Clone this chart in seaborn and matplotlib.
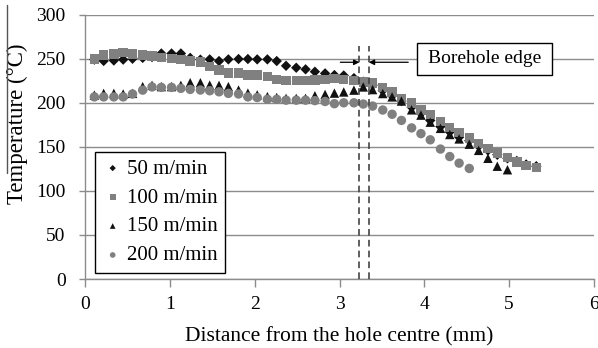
import numpy as np
import pandas as pd
import matplotlib
matplotlib.use("Agg")
import matplotlib.pyplot as plt
import seaborn as sns
from matplotlib.patches import Rectangle
from matplotlib.lines import Line2D

# ---- data ----
distance = [0.11, 0.22, 0.34, 0.45, 0.56, 0.68, 0.79, 0.90, 1.02, 1.13,
            1.24, 1.36, 1.47, 1.58, 1.69, 1.81, 1.92, 2.03, 2.15, 2.26,
            2.37, 2.49, 2.60, 2.71, 2.83, 2.94, 3.05, 3.17, 3.28, 3.39,
            3.51, 3.62, 3.73, 3.85, 3.96, 4.07, 4.19, 4.30, 4.41, 4.53,
            4.64, 4.75, 4.86, 4.98, 5.09, 5.20, 5.32]

temp_50 = [249, 247.5, 248, 249, 250, 251, 252, 256, 256, 256,
           251, 249, 249.3, 247.4, 249.3, 249.7, 249.7, 249.3, 249.3, 247.4,
           242, 239.8, 238, 235.3, 233.4, 231.5, 231, 228, 224, 220,
           214, 208, 202, 195, 188, 180, 173, 167, 161, 157,
           151, 146, 141, 137, 134, 130, 128]

temp_100 = [249.7, 254.2, 255.4, 256.9, 255.4, 254.2, 253, 251.6, 250.4, 249.3,
            247.4, 246.3, 241, 237.2, 234, 234, 231.5, 231.5, 229.6, 226.6,
            225, 225, 225, 225.8, 226.6, 227.7, 226.6, 225, 223.8, 222.6,
            217.3, 212.4, 204.8, 199.9, 191.6, 187, 179, 172, 166, 160,
            154, 148, 143, 138, 133, 129, 126.5]

temp_150 = [208.7, 210.7, 210.7, 210, 210.7, 218.4, 219.8, 218.4, 218.4, 219.8,
            222.8, 222.8, 220.1, 219.8, 218.4, 214.5, 211, 209, 207, 206,
            205, 205, 205, 208, 209.5, 211, 212.3, 214.4, 218, 215,
            210.5, 206.7, 202, 192, 186, 178, 171, 164, 159, 153,
            146, 137, 128, 124]

temp_200 = [206.7, 206.7, 206.7, 206.7, 210, 214.4, 218, 217.5, 217.5, 216.4,
            215.2, 214.5, 213.7, 212.5, 210.7, 210, 206.7, 206, 204, 204,
            203, 203, 203, 202.5, 201.5, 199, 200, 200, 198.6, 196.3,
            191.8, 187, 180, 171.5, 165, 158, 147.5, 139, 131.5, 125.5]

series_labels = ["50 m/min", "100 m/min", "150 m/min", "200 m/min"]
series_values = [temp_50, temp_100, temp_150, temp_200]

x_ticks = [0, 1, 2, 3, 4, 5, 6]
y_ticks = [0, 50, 100, 150, 200, 250, 300]

# ---- build long-form table ----
frames = []
for lab, vals in zip(series_labels, series_values):
    frames.append(pd.DataFrame({"Distance": distance[:len(vals)],
                                "Temperature": vals,
                                "Speed": lab}))
df = pd.concat(frames, ignore_index=True)

# ---- style ----
sns.set_theme(style="white")
plt.rcParams['font.family'] = ['Liberation Serif', 'DejaVu Serif']

fig = plt.figure(figsize=(5.98, 3.48), dpi=100)
ax = fig.add_axes([85 / 598, 1 - 279 / 348, 509 / 598, 264.3 / 348])

marker_styles = {
    "50 m/min": dict(marker="D", color="#111111", s=28),
    "100 m/min": dict(marker="s", color="#808080", s=46),
    "150 m/min": dict(marker="^", color="#111111", s=46),
    "200 m/min": dict(marker="o", color="#808080", s=46),
}

for i, lab in enumerate(series_labels):
    sub = df[df["Speed"] == lab]
    st = marker_styles[lab]
    sns.scatterplot(data=sub, x="Distance", y="Temperature", ax=ax,
                    marker=st["marker"], color=st["color"], s=st["s"],
                    edgecolor="none", linewidth=0, label=lab, zorder=3 + i)

ax.set_xlim(0, 6)
ax.set_ylim(0, 300)
ax.set_xticks(x_ticks)
ax.set_yticks(y_ticks)

grid_col = "#8c8c8c"
ax.yaxis.grid(True, color=grid_col, lw=1)
ax.xaxis.grid(False)
for side in ["top", "right"]:
    ax.spines[side].set_visible(False)
for side in ["left", "bottom"]:
    ax.spines[side].set_color(grid_col)
    ax.spines[side].set_linewidth(1)

ax.tick_params(axis="x", bottom=True, direction="out", length=6, width=1,
               color=grid_col, pad=6.5, labelsize=14, labelcolor="black")
ax.tick_params(axis="y", left=True, direction="out", length=4, width=1,
               color=grid_col, pad=10, labelsize=14, labelcolor="black")

ax.set_xlabel("Distance from the hole centre (mm)", fontsize=15.5, color="black")
ax.set_ylabel("Temperature (°C)", fontsize=16.5, color="black")
ax.xaxis.set_label_coords(0.5, -0.18)
ax.yaxis.set_label_coords(-0.112, 0.588)

# borehole edge annotation
edge_lo, edge_hi = 3.235, 3.345
for xe in (edge_lo, edge_hi):
    ax.plot([xe, xe], [0, 264], ls=(0, (4, 2.5)), color="#444444", lw=1.2, zorder=8)
ax.annotate("", xy=(edge_lo, 246), xytext=(3.01, 246),
            arrowprops=dict(arrowstyle="-|>", color="black", lw=0.9,
                            mutation_scale=8, shrinkA=0, shrinkB=0), zorder=9)
ax.annotate("", xy=(edge_hi, 246), xytext=(3.81, 246),
            arrowprops=dict(arrowstyle="-|>", color="black", lw=0.9,
                            mutation_scale=8, shrinkA=0, shrinkB=0), zorder=9)
ax.add_patch(Rectangle((3.916, 231.5), 5.51 - 3.916, 268.2 - 231.5,
                       facecolor="white", edgecolor="black", lw=1, zorder=9))
ax.text(4.713, 249.8, "Borehole edge", ha="center", va="center",
        fontsize=14, color="black", zorder=10)

leg = ax.legend(loc="upper left", bbox_to_anchor=(0.0196, 0.4817),
                borderaxespad=0, frameon=True, fancybox=False,
                edgecolor="black", framealpha=1, fontsize=15,
                handletextpad=0.2, labelspacing=0.45, markerscale=0.6,
                borderpad=0.35, handlelength=1.0)
leg.get_frame().set_linewidth(1)
for t in leg.get_texts():
    t.set_color("black")

# thin vertical stroke at the far left of the original figure
fig.add_artist(Line2D([0.0117, 0.0117], [0.503, 0.986], transform=fig.transFigure,
                      color="#555555", lw=1))

fig.savefig("out.png", dpi=100)
